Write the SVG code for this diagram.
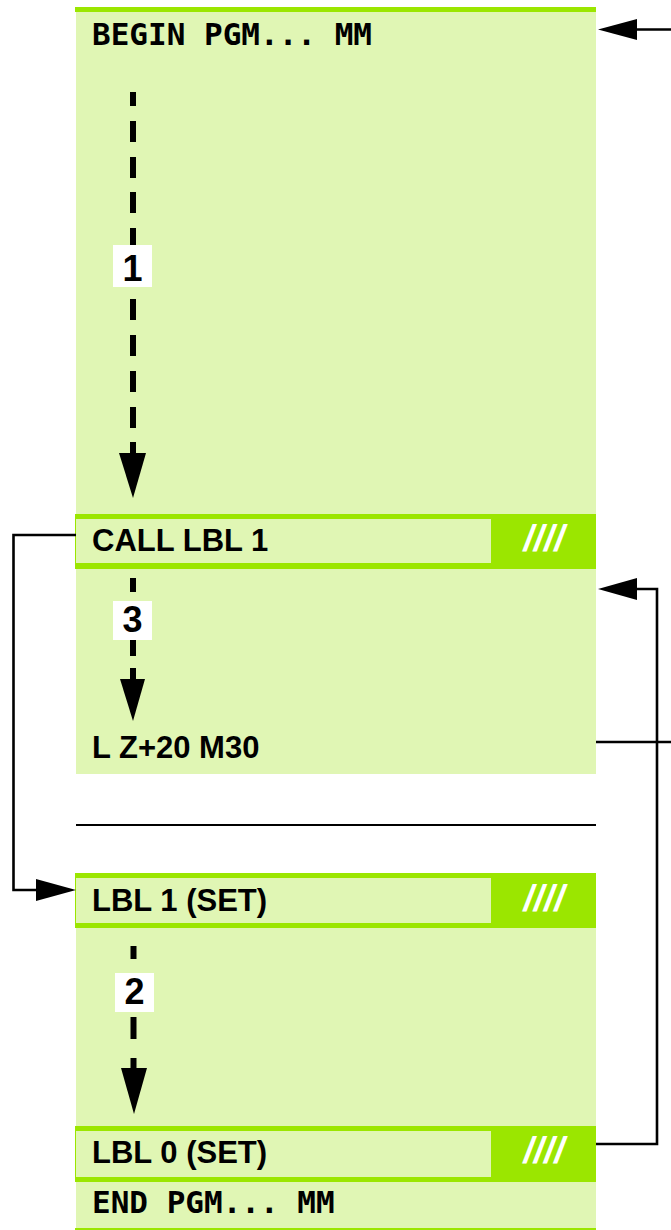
<svg xmlns="http://www.w3.org/2000/svg" width="671" height="1230" viewBox="0 0 671 1230">
<style>
.lite{fill:#E0F6B4}
.hi{fill:#9BE600}
.sans{font-family:"Liberation Sans",Arial,sans-serif;font-weight:bold;font-size:31px;fill:#000}
.mono{font-family:"DejaVu Sans Mono","Liberation Mono",monospace;font-weight:bold;font-size:31px;fill:#000}
.hash{font-family:"Liberation Sans",Arial,sans-serif;font-weight:bold;font-style:italic;font-size:37px;fill:#fff}
.num{font-family:"Liberation Sans",Arial,sans-serif;font-weight:bold;font-size:36px;fill:#000}
.dash{stroke:#000;stroke-width:6;fill:none}
.wire{stroke:#000;stroke-width:2.6;fill:none}
.head{fill:#000}
</style>
<rect width="671" height="1230" fill="#fff"/>
<g id="begin">
<rect class="hi" x="75" y="7" width="521" height="5"/>
<rect class="lite" x="76" y="12" width="520" height="502"/>
<text class="mono" x="92" y="45">BEGIN PGM... MM</text>
</g>
<g id="call-lbl1">
<rect class="hi" x="75" y="514" width="521" height="55"/>
<rect class="lite" x="76" y="519" width="415" height="44"/>
<text class="sans" x="92" y="551">CALL LBL 1</text>
<text class="hash" x="544" y="551" text-anchor="middle">////</text>
</g>
<g id="main-end">
<rect class="lite" x="76" y="569" width="520" height="205"/>
<text class="sans" x="92" y="758">L Z+20 M30</text>
</g>
<g id="separator">
<line x1="76" y1="825" x2="596" y2="825" stroke="#000" stroke-width="2"/>
</g>
<g id="lbl1-set">
<rect class="hi" x="75" y="873" width="521" height="55"/>
<rect class="lite" x="76" y="878" width="415" height="45"/>
<text class="sans" x="92" y="911">LBL 1 (SET)</text>
<text class="hash" x="544" y="911" text-anchor="middle">////</text>
</g>
<g id="sub-body">
<rect class="lite" x="76" y="928" width="520" height="198"/>
</g>
<g id="lbl0-set">
<rect class="hi" x="75" y="1126" width="521" height="56"/>
<rect class="lite" x="76" y="1131" width="415" height="46"/>
<text class="sans" x="92" y="1163">LBL 0 (SET)</text>
<text class="hash" x="544" y="1163" text-anchor="middle">////</text>
</g>
<g id="end">
<rect class="lite" x="76" y="1182" width="520" height="46"/>
<rect class="hi" x="75" y="1228" width="521" height="4"/>
<text class="mono" x="92" y="1213">END PGM... MM</text>
</g>
<g id="connectors">
<path class="dash" d="M133 92V106M133 121V142M133 157V178M133 192V213M133 228V245M133 299V320M133 335V356M133 371V392M133 407V428M133 442V455"/>
<polygon class="head" points="119,453 146,453 133,498"/>
<path class="dash" d="M133 578V592M133 640V656M133 668V681"/>
<polygon class="head" points="120,679 145,679 133,721"/>
<path class="dash" d="M133.5 946V959M133.5 1017V1039M133.5 1058V1070"/>
<polygon class="head" points="121,1068 147,1068 134,1114"/>
<path class="wire" d="M671 29.5H636"/>
<polygon class="head" points="598,29.5 637,19 637,40"/>
<path class="wire" d="M76 535H13.5V890H37"/>
<polygon class="head" points="76,890 36,879 36,901"/>
<path class="wire" d="M596 1144H657V589H636"/>
<polygon class="head" points="598,589 637,578 637,600"/>
<path class="wire" d="M596 742H671"/>
</g>
<g id="labels">
<rect x="113" y="245" width="39" height="42" fill="#fff"/>
<text class="num" x="132.5" y="281" text-anchor="middle">1</text>
<rect x="113" y="601" width="39" height="39" fill="#fff"/>
<text class="num" x="132.5" y="632" text-anchor="middle">3</text>
<rect x="115" y="973" width="39" height="39" fill="#fff"/>
<text class="num" x="134.5" y="1004" text-anchor="middle">2</text>
</g>
</svg>
